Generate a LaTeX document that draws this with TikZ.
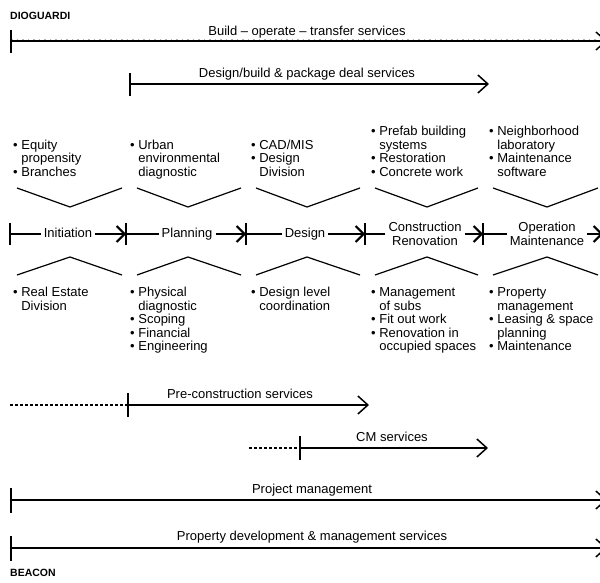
\documentclass[tikz,border=0pt]{standalone}
\usepackage{fontspec}
\setmainfont{Liberation Sans}
\usetikzlibrary{arrows.meta}
\newcommand\myb{\textbullet\ }
\newcommand\myi{\phantom{\textbullet\ }}
\begin{document}
\begin{tikzpicture}[x=1pt,y=-1pt,
  txt/.style={font=\fontsize{13}{13.5}\selectfont, inner sep=0pt},
  colt/.style={txt, anchor=base west},
  barlabel/.style={txt, anchor=base},
  bar/.style={line width=1.5pt},
  bartip/.style={-{Straight Barb[length=10pt,width=18pt]}},
  mtip/.style={-{Straight Barb[length=8pt,width=16pt]}},
  tick/.style={line width=1.5pt},
  chev/.style={line width=1.2pt},
  midl/.style={line width=2pt},
  stage/.style={txt, inner sep=3pt, text height=9.5pt, text depth=3pt},
  stagetwo/.style={font=\fontsize{13}{14.5}\selectfont, inner sep=3pt, align=center},
  lead/.style={line width=1.5pt, dash pattern=on 2.5pt off 2.5pt},
  corp/.style={font=\fontsize{10.5}{12}\selectfont\bfseries, anchor=west, inner sep=0pt}
]
\useasboundingbox (0,0) rectangle (600,583);
\clip (0,0) rectangle (600,583);

% company names
\node[corp] (dio) at (10,16) {DIOGUARDI};
\node[corp] (bea) at (10,573) {BEACON};

% Build - operate - transfer
\coordinate (b1s) at (11,41);
\coordinate (b1e) at (607,41);
\draw[line width=1.4pt, bartip] (b1s) -- (b1e);
\draw[line width=0.6pt, gray!60, dash pattern=on 1.5pt off 4pt] ([yshift=1.4pt]b1s) -- ([yshift=1.4pt]b1e);
\draw[tick] (b1s) ++(0,-11) -- ++(0,23);
\node[barlabel] (l1) at (307,36) {Build – operate – transfer services};

% Design/build
\coordinate (b2s) at (130,84);
\coordinate (b2e) at (489,84);
\draw[bar, bartip] (b2s) -- (b2e);
\draw[tick] (b2s) ++(0,-11) -- ++(0,23);
\node[barlabel] (l2) at (307,77.5) {Design/build \& package deal services};

% top column texts
\node[colt] (t1) at (13,176) {\begin{tabular}[b]{@{}l@{}}\myb Equity\\\myi propensity\\\myb Branches\end{tabular}};
\node[colt] (t2) at (130,176) {\begin{tabular}[b]{@{}l@{}}\myb Urban\\\myi environmental\\\myi diagnostic\end{tabular}};
\node[colt] (t3) at (251,176) {\begin{tabular}[b]{@{}l@{}}\myb CAD/MIS\\\myb Design\\\myi Division\end{tabular}};
\node[colt] (t4) at (371,176) {\begin{tabular}[b]{@{}l@{}}\myb Prefab building\\\myi systems\\\myb Restoration\\\myb Concrete work\end{tabular}};
\node[colt] (t5) at (489,176) {\begin{tabular}[b]{@{}l@{}}\myb Neighborhood\\\myi laboratory\\\myb Maintenance\\\myi software\end{tabular}};

% top chevrons
\draw[chev] (17,188) -- (70,207) -- (122,188);
\draw[chev] (137,188) -- (188,207) -- (241,188);
\draw[chev] (256,188) -- (307,207) -- (360,188);
\draw[chev] (375,188) -- (427,207) -- (478,188);
\draw[chev] (493,188) -- (547,207) -- (598,188);

% middle row
\coordinate (m0) at (10,234);
\node[stage] (s1) at (68,234) {Initiation};
\coordinate (m1) at (126,234);
\node[stage] (s2) at (187,234) {Planning};
\coordinate (m2) at (246,234);
\node[stage] (s3) at (305,234) {Design};
\coordinate (m3) at (365,234);
\node[stagetwo] (s4) at (425,234) {Construction\\Renovation};
\coordinate (m4) at (483,234);
\node[stagetwo] (s5) at (547,234) {Operation\\Maintenance};
\coordinate (m5) at (603,234);

\draw[midl] (m0) -- (s1);
\draw[midl] (m0) ++(0,-11) -- ++(0,22);
\draw[midl, mtip] (s1) -- (m1);
\draw[midl] (m1) -- (s2);
\draw[midl, mtip] (s2) -- (m2);
\draw[midl] (m2) -- (s3);
\draw[midl, mtip] (s3) -- (m3);
\draw[midl] (m3) -- (s4);
\draw[midl, mtip] (s4) -- (m4);
\draw[midl] (m4) -- (s5);
\draw[midl, mtip] (s5) -- (m5);
\foreach \m in {m1,m2,m3,m4,m5} {\draw[midl] (\m) ++(0,-11) -- ++(0,22);}

% bottom chevrons
\draw[chev] (17,275) -- (70,257) -- (122,275);
\draw[chev] (137,275) -- (188,257) -- (241,275);
\draw[chev] (256,275) -- (307,257) -- (360,275);
\draw[chev] (375,275) -- (427,257) -- (478,275);
\draw[chev] (493,275) -- (547,257) -- (598,275);

% bottom column texts
\node[colt] (u1) at (13,296.5) {\begin{tabular}[t]{@{}l@{}}\myb Real Estate\\\myi Division\end{tabular}};
\node[colt] (u2) at (130,296.5) {\begin{tabular}[t]{@{}l@{}}\myb Physical\\\myi diagnostic\\\myb Scoping\\\myb Financial\\\myb Engineering\end{tabular}};
\node[colt] (u3) at (251,296.5) {\begin{tabular}[t]{@{}l@{}}\myb Design level\\\myi coordination\end{tabular}};
\node[colt] (u4) at (371,296.5) {\begin{tabular}[t]{@{}l@{}}\myb Management\\\myi of subs\\\myb Fit out work\\\myb Renovation in\\\myi occupied spaces\end{tabular}};
\node[colt] (u5) at (489,296.5) {\begin{tabular}[t]{@{}l@{}}\myb Property\\\myi management\\\myb Leasing \& space\\\myi planning\\\myb Maintenance\end{tabular}};

% Pre-construction services
\coordinate (p0) at (10,405);
\coordinate (p1) at (128,405);
\coordinate (p2) at (369,405);
\draw[lead] (p0) -- (p1);
\draw[bar, bartip] (p1) -- (p2);
\draw[tick] (p1) ++(0,-12) -- ++(0,24);
\node[barlabel] (l3) at (240,398) {Pre-construction services};

% CM services
\coordinate (c0) at (249,448);
\coordinate (c1) at (300,448);
\coordinate (c2) at (488,448);
\draw[lead] (c0) -- (c1);
\draw[bar, bartip] (c1) -- (c2);
\draw[tick] (c1) ++(0,-12) -- ++(0,24);
\node[barlabel] (l4) at (392,441) {CM services};

% Project management
\coordinate (j0) at (11,500);
\coordinate (j1) at (607,500);
\draw[bar, bartip] (j0) -- (j1);
\draw[tick] (j0) ++(0,-12) -- ++(0,25);
\node[barlabel] (l5) at (312,493) {Project management};

% Property development & management services
\coordinate (d0) at (11,548);
\coordinate (d1) at (607,548);
\draw[bar, bartip] (d0) -- (d1);
\draw[tick] (d0) ++(0,-12) -- ++(0,25);
\node[barlabel] (l6) at (312,540) {Property development \& management services};
\end{tikzpicture}
\end{document}
